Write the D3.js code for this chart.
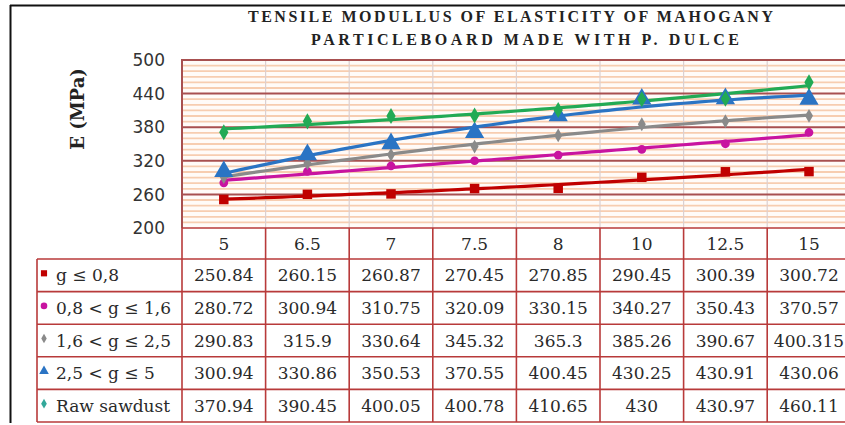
<!DOCTYPE html>
<html>
<head>
<meta charset="utf-8">
<script src="https://cdn.jsdelivr.net/npm/d3@7"></script>
<style>
html,body{margin:0;padding:0;background:#fff;}
svg{display:block;}
</style>
</head>
<body>
<svg id="chart" width="845" height="425"></svg>
<script>
// ---- data ----
const categories = ["5", "6.5", "7", "7.5", "8", "10", "12.5", "15"];
const seriesNames = ["g ≤ 0,8", "0,8 < g ≤ 1,6", "1,6 < g ≤ 2,5", "2,5 < g ≤ 5", "Raw sawdust"];
const s1 = [250.84, 260.15, 260.87, 270.45, 270.85, 290.45, 300.39, 300.72];
const s2 = [280.72, 300.94, 310.75, 320.09, 330.15, 340.27, 350.43, 370.57];
const s3 = [290.83, 315.9, 330.64, 345.32, 365.3, 385.26, 390.67, 400.315];
const s4 = [300.94, 330.86, 350.53, 370.55, 400.45, 430.25, 430.91, 430.06];
const s5 = [370.94, 390.45, 400.05, 400.78, 410.65, 430, 430.97, 460.11];
const tableText = [
  ["250.84","260.15","260.87","270.45","270.85","290.45","300.39","300.72"],
  ["280.72","300.94","310.75","320.09","330.15","340.27","350.43","370.57"],
  ["290.83","315.9","330.64","345.32","365.3","385.26","390.67","400.315"],
  ["300.94","330.86","350.53","370.55","400.45","430.25","430.91","430.06"],
  ["370.94","390.45","400.05","400.78","410.65","430","430.97","460.11"]
];
const yTicks = [200, 260, 320, 380, 440, 500];
const titleLines = ["TENSILE MODULLUS OF ELASTICITY OF MAHOGANY", "PARTICLEBOARD MADE WITH P. DULCE"];
const yTitle = "E (MPa)";

// ---- styles ----
const colors = ["#c00000", "#c814a0", "#8a8a8a", "#2a74c4", "#22aa55"];
const legendColors = ["#c00000", "#c814a0", "#8a8a8a", "#2a74c4", "#33a89a"];
const symbols = [d3.symbolSquare, d3.symbolCircle, d3.symbolDiamond, d3.symbolTriangle, d3.symbolDiamond];
const symSizes = [90, 60, 55, 160, 75];
const legSizes = [38, 34, 26, 40, 28];
const allSeries = [s1, s2, s3, s4, s5];

const svg = d3.select("#chart");
const plotL = 182, colW = 83.6, plotT = 60, plotB = 228;
const x = d3.scaleBand().domain(categories).range([plotL, plotL + colW * categories.length]);
const xi = d3.scaleLinear().domain([0, categories.length - 1])
  .range([x(categories[0]) + x.bandwidth()/2, x(categories[categories.length-1]) + x.bandwidth()/2]);
const y = d3.scaleLinear().domain([200, 500]).range([plotB, plotT]);

// outer border
svg.append("line").attr("x1", 10.5).attr("x2", 10.5).attr("y1", 5).attr("y2", 423).attr("stroke", "#111").attr("stroke-width", 2);
svg.append("line").attr("x1", 10).attr("x2", 845).attr("y1", 5.5).attr("y2", 5.5).attr("stroke", "#111").attr("stroke-width", 2);

// title
titleLines.forEach((t, i) => {
  svg.append("text")
    .attr("x", i === 0 ? 248 : 311).attr("y", i === 0 ? 22 : 45)
    .attr("textLength", i === 0 ? 525 : 428).attr("lengthAdjust", "spacing")
    .attr("font-family", "Liberation Serif, serif").attr("font-weight", "bold")
    .attr("font-size", 16).attr("fill", "#222").text(t);
});

// plot background
svg.append("rect").attr("x", plotL).attr("y", plotT).attr("width", 845 - plotL).attr("height", plotB - plotT).attr("fill", "#fffbf8");

// minor gridlines
const minor = d3.range(210, 500, 10).filter(v => (v - 200) % 60 !== 0);
svg.append("g").selectAll("line").data(minor).join("line")
  .attr("x1", plotL).attr("x2", 845).attr("y1", d => y(d)).attr("y2", d => y(d))
  .attr("stroke", "#f7cdb0").attr("stroke-width", 1.8);

// vertical gridlines
svg.append("g").selectAll("line").data(categories.slice(1)).join("line")
  .attr("x1", d => x(d)).attr("x2", d => x(d)).attr("y1", plotT).attr("y2", plotB)
  .attr("stroke", "#dcd0d0").attr("stroke-width", 1.2);

// major gridlines
svg.append("g").selectAll("line").data(yTicks.filter(v => v > 200)).join("line")
  .attr("x1", plotL).attr("x2", 845).attr("y1", d => y(d)).attr("y2", d => y(d))
  .attr("stroke", "#a85050").attr("stroke-width", 2);
svg.append("line").attr("x1", plotL).attr("x2", plotL).attr("y1", plotT - 1).attr("y2", plotB)
  .attr("stroke", "#a85050").attr("stroke-width", 2);

// y tick labels
svg.append("g").selectAll("text").data(yTicks).join("text")
  .attr("x", 165).attr("y", d => y(d)).attr("dy", "0.36em").attr("text-anchor", "end")
  .attr("font-family", "DejaVu Sans, sans-serif").attr("font-size", 17).attr("fill", "#333")
  .text(d => d);

// y title
svg.append("text").attr("transform", "translate(84,109) rotate(-90)")
  .attr("text-anchor", "middle").attr("font-family", "DejaVu Serif, serif").attr("font-weight", "bold")
  .attr("font-size", 18).attr("fill", "#222").text(yTitle);

// quadratic trendline fit
function quadFit(vals) {
  let S = [0,0,0,0,0], T = [0,0,0];
  vals.forEach((v, i) => {
    const t = i + 1;
    for (let k = 0; k < 5; k++) S[k] += Math.pow(t, k);
    for (let k = 0; k < 3; k++) T[k] += v * Math.pow(t, k);
  });
  const A = [[S[0],S[1],S[2],T[0]],[S[1],S[2],S[3],T[1]],[S[2],S[3],S[4],T[2]]];
  for (let c = 0; c < 3; c++) {
    for (let r = c + 1; r < 3; r++) {
      const f = A[r][c] / A[c][c];
      for (let k = c; k < 4; k++) A[r][k] -= f * A[c][k];
    }
  }
  const b = [0,0,0];
  for (let r = 2; r >= 0; r--) {
    let s = A[r][3];
    for (let k = r + 1; k < 3; k++) s -= A[r][k] * b[k];
    b[r] = s / A[r][r];
  }
  return t => b[0] + b[1] * t + b[2] * t * t;
}

const line = d3.line().x(d => xi(d[0])).y(d => y(d[1])).curve(d3.curveLinear);
allSeries.forEach((vals, si) => {
  const f = quadFit(vals);
  const pts = d3.range(0, 7.001, 0.1).map(t => [t, f(t + 1)]);
  svg.append("path").datum(pts).attr("d", line).attr("fill", "none")
    .attr("stroke", colors[si]).attr("stroke-width", 3.2).attr("stroke-linejoin", "round");
});

// markers
allSeries.forEach((vals, si) => {
  svg.append("g").selectAll("path").data(vals).join("path")
    .attr("transform", (d, i) => `translate(${x(categories[i]) + x.bandwidth()/2},${y(d)})`)
    .attr("d", d3.symbol().type(symbols[si]).size(symSizes[si]))
    .attr("fill", colors[si]);
});

// ---- data table ----
const headT = 228, headB = 259, rowH = 32.6, legL = 37;
const tbl = svg.append("g");
const red = "#b83a3a";
const rowsY = d3.range(seriesNames.length + 1).map(i => headB + i * rowH);
tbl.selectAll("text.h").data(categories).join("text")
  .attr("x", d => x(d) + x.bandwidth()/2).attr("y", (headT + headB)/2).attr("dy", "0.36em")
  .attr("text-anchor", "middle").attr("font-family", "DejaVu Serif, serif").attr("font-size", 17)
  .attr("fill", "#2a2a2a").text(d => d);
tbl.append("line").attr("x1", plotL).attr("x2", 845).attr("y1", headT).attr("y2", headT).attr("stroke", red).attr("stroke-width", 1.6);
rowsY.forEach(yy => {
  tbl.append("line").attr("x1", legL).attr("x2", 845).attr("y1", yy).attr("y2", yy).attr("stroke", red).attr("stroke-width", 1.6);
});
categories.forEach(c => {
  tbl.append("line").attr("x1", x(c)).attr("x2", x(c)).attr("y1", headT).attr("y2", rowsY[rowsY.length-1]).attr("stroke", red).attr("stroke-width", 1.6);
});
tbl.append("line").attr("x1", x(categories[7]) + colW).attr("x2", x(categories[7]) + colW).attr("y1", headT).attr("y2", rowsY[rowsY.length-1]).attr("stroke", red).attr("stroke-width", 1.6);
tbl.append("line").attr("x1", legL).attr("x2", legL).attr("y1", headB).attr("y2", rowsY[rowsY.length-1]).attr("stroke", red).attr("stroke-width", 1.6);

seriesNames.forEach((name, si) => {
  const cy = rowsY[si] + rowH/2;
  tbl.append("path").attr("transform", `translate(44,${cy - 2})`)
    .attr("d", d3.symbol().type(symbols[si]).size(legSizes[si])).attr("fill", legendColors[si]);
  tbl.append("text").attr("x", 56).attr("y", cy).attr("dy", "0.36em")
    .attr("font-family", "DejaVu Serif, serif").attr("font-size", 17).attr("fill", "#2a2a2a").text(name);
  tableText[si].forEach((v, ci) => {
    tbl.append("text").attr("x", x(categories[ci]) + x.bandwidth()/2).attr("y", cy).attr("dy", "0.36em")
      .attr("text-anchor", "middle").attr("font-family", "DejaVu Serif, serif").attr("font-size", 17)
      .attr("fill", "#2a2a2a").text(v);
  });
});
</script>
</body>
</html>
